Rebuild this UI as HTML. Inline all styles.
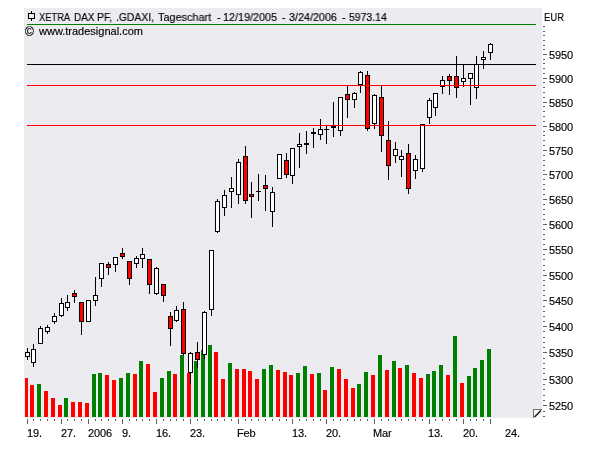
<!DOCTYPE html>
<html><head><meta charset="utf-8"><title>XETRA DAX PF</title>
<style>
html,body{margin:0;padding:0;background:#fff;}
body{width:600px;height:450px;position:relative;overflow:hidden;font-family:"Liberation Sans",sans-serif;color:#000;}
.yl,.xl{letter-spacing:-0.15px}
.t{position:absolute;will-change:transform;-webkit-text-stroke:0.15px #000;white-space:nowrap;font-size:11px;line-height:13px;height:13px;}
</style></head><body>
<svg width="600" height="450" viewBox="0 0 600 450" style="position:absolute;left:0;top:0" shape-rendering="crispEdges">
<rect x="0" y="0" width="600" height="450" fill="#fff"/>
<rect x="24" y="8" width="518" height="410" fill="#ebebf0"/>
<rect x="25" y="378" width="3" height="39" fill="#ff0000"/>
<rect x="30" y="385" width="4" height="32" fill="#ff0000"/>
<rect x="37" y="384" width="4" height="33" fill="#008000"/>
<rect x="44" y="391" width="4" height="26" fill="#ff0000"/>
<rect x="51" y="398" width="4" height="19" fill="#ff0000"/>
<rect x="58" y="405" width="4" height="12" fill="#ff0000"/>
<rect x="64" y="398" width="4" height="19" fill="#008000"/>
<rect x="71" y="402" width="4" height="15" fill="#ff0000"/>
<rect x="78" y="402" width="4" height="15" fill="#ff0000"/>
<rect x="85" y="403" width="4" height="14" fill="#ff0000"/>
<rect x="92" y="374" width="4" height="43" fill="#008000"/>
<rect x="98" y="373" width="4" height="44" fill="#008000"/>
<rect x="105" y="375" width="4" height="42" fill="#ff0000"/>
<rect x="112" y="380" width="4" height="37" fill="#ff0000"/>
<rect x="119" y="378" width="4" height="39" fill="#008000"/>
<rect x="126" y="373" width="4" height="44" fill="#008000"/>
<rect x="133" y="374" width="4" height="43" fill="#ff0000"/>
<rect x="139" y="361" width="4" height="56" fill="#008000"/>
<rect x="146" y="364" width="4" height="53" fill="#ff0000"/>
<rect x="153" y="392" width="4" height="25" fill="#ff0000"/>
<rect x="160" y="378" width="4" height="39" fill="#008000"/>
<rect x="167" y="371" width="4" height="46" fill="#008000"/>
<rect x="173" y="374" width="4" height="43" fill="#ff0000"/>
<rect x="180" y="355" width="4" height="62" fill="#008000"/>
<rect x="187" y="373" width="4" height="44" fill="#ff0000"/>
<rect x="194" y="361" width="4" height="56" fill="#008000"/>
<rect x="201" y="350" width="4" height="67" fill="#008000"/>
<rect x="208" y="345" width="4" height="72" fill="#008000"/>
<rect x="214" y="352" width="4" height="65" fill="#ff0000"/>
<rect x="221" y="379" width="4" height="38" fill="#ff0000"/>
<rect x="228" y="363" width="4" height="54" fill="#008000"/>
<rect x="235" y="369" width="4" height="48" fill="#ff0000"/>
<rect x="242" y="369" width="4" height="48" fill="#ff0000"/>
<rect x="248" y="371" width="4" height="46" fill="#ff0000"/>
<rect x="255" y="379" width="4" height="38" fill="#ff0000"/>
<rect x="262" y="369" width="4" height="48" fill="#008000"/>
<rect x="269" y="365" width="4" height="52" fill="#008000"/>
<rect x="276" y="370" width="4" height="47" fill="#ff0000"/>
<rect x="283" y="372" width="4" height="45" fill="#ff0000"/>
<rect x="289" y="375" width="4" height="42" fill="#ff0000"/>
<rect x="296" y="373" width="4" height="44" fill="#008000"/>
<rect x="303" y="366" width="4" height="51" fill="#008000"/>
<rect x="310" y="374" width="4" height="43" fill="#ff0000"/>
<rect x="317" y="373" width="4" height="44" fill="#008000"/>
<rect x="323" y="390" width="4" height="27" fill="#ff0000"/>
<rect x="330" y="367" width="4" height="50" fill="#008000"/>
<rect x="337" y="369" width="4" height="48" fill="#ff0000"/>
<rect x="344" y="379" width="4" height="38" fill="#ff0000"/>
<rect x="351" y="388" width="4" height="29" fill="#ff0000"/>
<rect x="357" y="384" width="4" height="33" fill="#008000"/>
<rect x="364" y="372" width="4" height="45" fill="#008000"/>
<rect x="371" y="375" width="4" height="42" fill="#ff0000"/>
<rect x="378" y="355" width="4" height="62" fill="#008000"/>
<rect x="385" y="370" width="4" height="47" fill="#ff0000"/>
<rect x="392" y="361" width="4" height="56" fill="#008000"/>
<rect x="398" y="368" width="4" height="49" fill="#ff0000"/>
<rect x="405" y="365" width="4" height="52" fill="#008000"/>
<rect x="412" y="373" width="4" height="44" fill="#ff0000"/>
<rect x="419" y="378" width="4" height="39" fill="#ff0000"/>
<rect x="426" y="374" width="4" height="43" fill="#008000"/>
<rect x="432" y="371" width="4" height="46" fill="#008000"/>
<rect x="439" y="365" width="4" height="52" fill="#008000"/>
<rect x="446" y="375" width="4" height="42" fill="#ff0000"/>
<rect x="453" y="336" width="4" height="81" fill="#008000"/>
<rect x="460" y="383" width="4" height="34" fill="#ff0000"/>
<rect x="467" y="376" width="4" height="41" fill="#008000"/>
<rect x="473" y="368" width="4" height="49" fill="#008000"/>
<rect x="480" y="360" width="4" height="57" fill="#008000"/>
<rect x="487" y="349" width="4" height="68" fill="#008000"/>
<rect x="27" y="348" width="1" height="12" fill="#000"/>
<rect x="25" y="352" width="5" height="5" fill="#000"/>
<rect x="26" y="353" width="3" height="3" fill="#ffffff"/>
<rect x="33" y="344" width="1" height="23" fill="#000"/>
<rect x="31" y="349" width="5" height="14" fill="#000"/>
<rect x="32" y="350" width="3" height="12" fill="#ffffff"/>
<rect x="40" y="326" width="1" height="18" fill="#000"/>
<rect x="38" y="328" width="5" height="16" fill="#000"/>
<rect x="39" y="329" width="3" height="14" fill="#ffffff"/>
<rect x="47" y="325" width="1" height="9" fill="#000"/>
<rect x="45" y="327" width="5" height="5" fill="#000"/>
<rect x="46" y="328" width="3" height="3" fill="#ffffff"/>
<rect x="54" y="313" width="1" height="11" fill="#000"/>
<rect x="52" y="316" width="5" height="6" fill="#000"/>
<rect x="53" y="317" width="3" height="4" fill="#ffffff"/>
<rect x="61" y="298" width="1" height="19" fill="#000"/>
<rect x="59" y="303" width="5" height="13" fill="#000"/>
<rect x="60" y="304" width="3" height="11" fill="#ffffff"/>
<rect x="67" y="295" width="1" height="16" fill="#000"/>
<rect x="65" y="302" width="5" height="6" fill="#000"/>
<rect x="66" y="303" width="3" height="4" fill="#ffffff"/>
<rect x="74" y="290" width="1" height="13" fill="#000"/>
<rect x="72" y="293" width="5" height="4" fill="#000"/>
<rect x="73" y="294" width="3" height="2" fill="#ff0000"/>
<rect x="81" y="302" width="1" height="33" fill="#000"/>
<rect x="79" y="302" width="5" height="20" fill="#000"/>
<rect x="80" y="303" width="3" height="18" fill="#ff0000"/>
<rect x="88" y="300" width="1" height="22" fill="#000"/>
<rect x="86" y="300" width="5" height="22" fill="#000"/>
<rect x="87" y="301" width="3" height="20" fill="#ffffff"/>
<rect x="95" y="277" width="1" height="29" fill="#000"/>
<rect x="93" y="295" width="5" height="6" fill="#000"/>
<rect x="94" y="296" width="3" height="4" fill="#ffffff"/>
<rect x="101" y="263" width="1" height="24" fill="#000"/>
<rect x="99" y="263" width="5" height="16" fill="#000"/>
<rect x="100" y="264" width="3" height="14" fill="#ffffff"/>
<rect x="108" y="262" width="1" height="13" fill="#000"/>
<rect x="106" y="264" width="5" height="4" fill="#000"/>
<rect x="107" y="265" width="3" height="2" fill="#ff0000"/>
<rect x="115" y="257" width="1" height="15" fill="#000"/>
<rect x="113" y="257" width="5" height="8" fill="#000"/>
<rect x="114" y="258" width="3" height="6" fill="#ffffff"/>
<rect x="122" y="248" width="1" height="11" fill="#000"/>
<rect x="120" y="253" width="5" height="4" fill="#000"/>
<rect x="121" y="254" width="3" height="2" fill="#ff0000"/>
<rect x="129" y="261" width="1" height="24" fill="#000"/>
<rect x="127" y="261" width="5" height="18" fill="#000"/>
<rect x="128" y="262" width="3" height="16" fill="#ff0000"/>
<rect x="136" y="256" width="1" height="12" fill="#000"/>
<rect x="134" y="258" width="5" height="6" fill="#000"/>
<rect x="135" y="259" width="3" height="4" fill="#ffffff"/>
<rect x="142" y="248" width="1" height="20" fill="#000"/>
<rect x="140" y="254" width="5" height="5" fill="#000"/>
<rect x="141" y="255" width="3" height="3" fill="#ffffff"/>
<rect x="149" y="259" width="1" height="35" fill="#000"/>
<rect x="147" y="259" width="5" height="26" fill="#000"/>
<rect x="148" y="260" width="3" height="24" fill="#ff0000"/>
<rect x="156" y="267" width="1" height="28" fill="#000"/>
<rect x="154" y="268" width="5" height="26" fill="#000"/>
<rect x="155" y="269" width="3" height="24" fill="#ffffff"/>
<rect x="163" y="284" width="1" height="18" fill="#000"/>
<rect x="161" y="284" width="5" height="12" fill="#000"/>
<rect x="162" y="285" width="3" height="10" fill="#ff0000"/>
<rect x="170" y="312" width="1" height="34" fill="#000"/>
<rect x="168" y="316" width="5" height="13" fill="#000"/>
<rect x="169" y="317" width="3" height="11" fill="#ff0000"/>
<rect x="176" y="306" width="1" height="16" fill="#000"/>
<rect x="174" y="310" width="5" height="11" fill="#000"/>
<rect x="175" y="311" width="3" height="9" fill="#ffffff"/>
<rect x="183" y="302" width="1" height="53" fill="#000"/>
<rect x="181" y="309" width="5" height="45" fill="#000"/>
<rect x="182" y="310" width="3" height="43" fill="#ff0000"/>
<rect x="190" y="352" width="1" height="32" fill="#000"/>
<rect x="188" y="353" width="5" height="20" fill="#000"/>
<rect x="189" y="354" width="3" height="18" fill="#ffffff"/>
<rect x="197" y="342" width="1" height="26" fill="#000"/>
<rect x="195" y="352" width="5" height="8" fill="#000"/>
<rect x="196" y="353" width="3" height="6" fill="#ff0000"/>
<rect x="204" y="311" width="1" height="48" fill="#000"/>
<rect x="202" y="312" width="5" height="43" fill="#000"/>
<rect x="203" y="313" width="3" height="41" fill="#ffffff"/>
<rect x="211" y="250" width="1" height="66" fill="#000"/>
<rect x="209" y="250" width="5" height="60" fill="#000"/>
<rect x="210" y="251" width="3" height="58" fill="#ffffff"/>
<rect x="217" y="199" width="1" height="34" fill="#000"/>
<rect x="215" y="201" width="5" height="31" fill="#000"/>
<rect x="216" y="202" width="3" height="29" fill="#ffffff"/>
<rect x="224" y="190" width="1" height="26" fill="#000"/>
<rect x="222" y="195" width="5" height="13" fill="#000"/>
<rect x="223" y="196" width="3" height="11" fill="#ffffff"/>
<rect x="231" y="177" width="1" height="31" fill="#000"/>
<rect x="229" y="188" width="5" height="4" fill="#000"/>
<rect x="230" y="189" width="3" height="2" fill="#ffffff"/>
<rect x="238" y="159" width="1" height="45" fill="#000"/>
<rect x="236" y="162" width="5" height="33" fill="#000"/>
<rect x="237" y="163" width="3" height="31" fill="#ffffff"/>
<rect x="245" y="146" width="1" height="58" fill="#000"/>
<rect x="243" y="156" width="5" height="45" fill="#000"/>
<rect x="244" y="157" width="3" height="43" fill="#ff0000"/>
<rect x="251" y="182" width="1" height="36" fill="#000"/>
<rect x="249" y="194" width="5" height="3" fill="#000"/>
<rect x="250" y="195" width="3" height="1" fill="#ff0000"/>
<rect x="258" y="174" width="1" height="27" fill="#000"/>
<rect x="256" y="191" width="5" height="1" fill="#000"/>
<rect x="265" y="175" width="1" height="36" fill="#000"/>
<rect x="263" y="185" width="5" height="4" fill="#000"/>
<rect x="264" y="186" width="3" height="2" fill="#ff0000"/>
<rect x="272" y="187" width="1" height="40" fill="#000"/>
<rect x="270" y="192" width="5" height="20" fill="#000"/>
<rect x="271" y="193" width="3" height="18" fill="#ffffff"/>
<rect x="279" y="154" width="1" height="25" fill="#000"/>
<rect x="277" y="154" width="5" height="25" fill="#000"/>
<rect x="278" y="155" width="3" height="23" fill="#ffffff"/>
<rect x="286" y="153" width="1" height="25" fill="#000"/>
<rect x="284" y="160" width="5" height="15" fill="#000"/>
<rect x="285" y="161" width="3" height="13" fill="#ff0000"/>
<rect x="292" y="148" width="1" height="36" fill="#000"/>
<rect x="290" y="148" width="5" height="28" fill="#000"/>
<rect x="291" y="149" width="3" height="26" fill="#ffffff"/>
<rect x="299" y="133" width="1" height="35" fill="#000"/>
<rect x="297" y="144" width="5" height="3" fill="#000"/>
<rect x="298" y="145" width="3" height="1" fill="#ffffff"/>
<rect x="306" y="131" width="1" height="23" fill="#000"/>
<rect x="304" y="143" width="5" height="2" fill="#000"/>
<rect x="313" y="128" width="1" height="20" fill="#000"/>
<rect x="311" y="132" width="5" height="2" fill="#000"/>
<rect x="320" y="119" width="1" height="21" fill="#000"/>
<rect x="318" y="129" width="5" height="6" fill="#000"/>
<rect x="319" y="130" width="3" height="4" fill="#ffffff"/>
<rect x="326" y="126" width="1" height="18" fill="#000"/>
<rect x="324" y="129" width="5" height="1" fill="#000"/>
<rect x="333" y="102" width="1" height="35" fill="#000"/>
<rect x="331" y="126" width="5" height="2" fill="#000"/>
<rect x="340" y="97" width="1" height="39" fill="#000"/>
<rect x="338" y="97" width="5" height="34" fill="#000"/>
<rect x="339" y="98" width="3" height="32" fill="#ffffff"/>
<rect x="347" y="86" width="1" height="32" fill="#000"/>
<rect x="345" y="94" width="5" height="6" fill="#000"/>
<rect x="346" y="95" width="3" height="4" fill="#ff0000"/>
<rect x="354" y="92" width="1" height="16" fill="#000"/>
<rect x="352" y="93" width="5" height="7" fill="#000"/>
<rect x="353" y="94" width="3" height="5" fill="#ffffff"/>
<rect x="360" y="71" width="1" height="22" fill="#000"/>
<rect x="358" y="72" width="5" height="13" fill="#000"/>
<rect x="359" y="73" width="3" height="11" fill="#ffffff"/>
<rect x="367" y="71" width="1" height="60" fill="#000"/>
<rect x="365" y="75" width="5" height="54" fill="#000"/>
<rect x="366" y="76" width="3" height="52" fill="#ff0000"/>
<rect x="374" y="94" width="1" height="35" fill="#000"/>
<rect x="372" y="95" width="5" height="29" fill="#000"/>
<rect x="373" y="96" width="3" height="27" fill="#ffffff"/>
<rect x="381" y="86" width="1" height="66" fill="#000"/>
<rect x="379" y="97" width="5" height="39" fill="#000"/>
<rect x="380" y="98" width="3" height="37" fill="#ff0000"/>
<rect x="388" y="121" width="1" height="59" fill="#000"/>
<rect x="386" y="140" width="5" height="26" fill="#000"/>
<rect x="387" y="141" width="3" height="24" fill="#ff0000"/>
<rect x="395" y="142" width="1" height="21" fill="#000"/>
<rect x="393" y="149" width="5" height="7" fill="#000"/>
<rect x="394" y="150" width="3" height="5" fill="#ffffff"/>
<rect x="401" y="150" width="1" height="27" fill="#000"/>
<rect x="399" y="156" width="5" height="4" fill="#000"/>
<rect x="400" y="157" width="3" height="2" fill="#ffffff"/>
<rect x="408" y="144" width="1" height="50" fill="#000"/>
<rect x="406" y="153" width="5" height="36" fill="#000"/>
<rect x="407" y="154" width="3" height="34" fill="#ff0000"/>
<rect x="415" y="155" width="1" height="24" fill="#000"/>
<rect x="413" y="159" width="5" height="12" fill="#000"/>
<rect x="414" y="160" width="3" height="10" fill="#ffffff"/>
<rect x="422" y="124" width="1" height="48" fill="#000"/>
<rect x="420" y="124" width="5" height="45" fill="#000"/>
<rect x="421" y="125" width="3" height="43" fill="#ffffff"/>
<rect x="429" y="98" width="1" height="26" fill="#000"/>
<rect x="427" y="100" width="5" height="18" fill="#000"/>
<rect x="428" y="101" width="3" height="16" fill="#ffffff"/>
<rect x="435" y="93" width="1" height="23" fill="#000"/>
<rect x="433" y="93" width="5" height="15" fill="#000"/>
<rect x="434" y="94" width="3" height="13" fill="#ffffff"/>
<rect x="442" y="76" width="1" height="18" fill="#000"/>
<rect x="440" y="80" width="5" height="7" fill="#000"/>
<rect x="441" y="81" width="3" height="5" fill="#ffffff"/>
<rect x="449" y="74" width="1" height="21" fill="#000"/>
<rect x="447" y="76" width="5" height="5" fill="#000"/>
<rect x="448" y="77" width="3" height="3" fill="#ff0000"/>
<rect x="456" y="56" width="1" height="42" fill="#000"/>
<rect x="454" y="76" width="5" height="12" fill="#000"/>
<rect x="455" y="77" width="3" height="10" fill="#ff0000"/>
<rect x="463" y="65" width="1" height="22" fill="#000"/>
<rect x="461" y="78" width="5" height="4" fill="#000"/>
<rect x="462" y="79" width="3" height="2" fill="#ffffff"/>
<rect x="470" y="73" width="1" height="32" fill="#000"/>
<rect x="468" y="73" width="5" height="6" fill="#000"/>
<rect x="469" y="74" width="3" height="4" fill="#ffffff"/>
<rect x="476" y="56" width="1" height="43" fill="#000"/>
<rect x="474" y="64" width="5" height="24" fill="#000"/>
<rect x="475" y="65" width="3" height="22" fill="#ffffff"/>
<rect x="483" y="51" width="1" height="18" fill="#000"/>
<rect x="481" y="57" width="5" height="3" fill="#000"/>
<rect x="482" y="58" width="3" height="1" fill="#ffffff"/>
<rect x="490" y="43" width="1" height="17" fill="#000"/>
<rect x="488" y="44" width="5" height="9" fill="#000"/>
<rect x="489" y="45" width="3" height="7" fill="#ffffff"/>
<rect x="27" y="24" width="509" height="1" fill="#008000"/>
<rect x="27" y="64" width="509" height="1" fill="#000"/>
<rect x="27" y="85" width="509" height="1" fill="#ff0000"/>
<rect x="27" y="125" width="509" height="1" fill="#ff0000"/>
<rect x="543" y="416" width="2" height="1" fill="#606060"/>
<rect x="543" y="411" width="2" height="1" fill="#606060"/>
<rect x="543" y="405" width="4" height="1" fill="#606060"/>
<rect x="543" y="400" width="2" height="1" fill="#606060"/>
<rect x="543" y="395" width="2" height="1" fill="#606060"/>
<rect x="543" y="389" width="2" height="1" fill="#606060"/>
<rect x="543" y="384" width="2" height="1" fill="#606060"/>
<rect x="543" y="379" width="4" height="1" fill="#606060"/>
<rect x="543" y="373" width="2" height="1" fill="#606060"/>
<rect x="543" y="368" width="2" height="1" fill="#606060"/>
<rect x="543" y="363" width="2" height="1" fill="#606060"/>
<rect x="543" y="358" width="2" height="1" fill="#606060"/>
<rect x="543" y="352" width="4" height="1" fill="#606060"/>
<rect x="543" y="347" width="2" height="1" fill="#606060"/>
<rect x="543" y="342" width="2" height="1" fill="#606060"/>
<rect x="543" y="337" width="2" height="1" fill="#606060"/>
<rect x="543" y="331" width="2" height="1" fill="#606060"/>
<rect x="543" y="326" width="4" height="1" fill="#606060"/>
<rect x="543" y="321" width="2" height="1" fill="#606060"/>
<rect x="543" y="316" width="2" height="1" fill="#606060"/>
<rect x="543" y="311" width="2" height="1" fill="#606060"/>
<rect x="543" y="306" width="2" height="1" fill="#606060"/>
<rect x="543" y="300" width="4" height="1" fill="#606060"/>
<rect x="543" y="295" width="2" height="1" fill="#606060"/>
<rect x="543" y="290" width="2" height="1" fill="#606060"/>
<rect x="543" y="285" width="2" height="1" fill="#606060"/>
<rect x="543" y="280" width="2" height="1" fill="#606060"/>
<rect x="543" y="275" width="4" height="1" fill="#606060"/>
<rect x="543" y="270" width="2" height="1" fill="#606060"/>
<rect x="543" y="265" width="2" height="1" fill="#606060"/>
<rect x="543" y="259" width="2" height="1" fill="#606060"/>
<rect x="543" y="254" width="2" height="1" fill="#606060"/>
<rect x="543" y="249" width="4" height="1" fill="#606060"/>
<rect x="543" y="244" width="2" height="1" fill="#606060"/>
<rect x="543" y="239" width="2" height="1" fill="#606060"/>
<rect x="543" y="234" width="2" height="1" fill="#606060"/>
<rect x="543" y="229" width="2" height="1" fill="#606060"/>
<rect x="543" y="224" width="4" height="1" fill="#606060"/>
<rect x="543" y="219" width="2" height="1" fill="#606060"/>
<rect x="543" y="214" width="2" height="1" fill="#606060"/>
<rect x="543" y="209" width="2" height="1" fill="#606060"/>
<rect x="543" y="204" width="2" height="1" fill="#606060"/>
<rect x="543" y="199" width="4" height="1" fill="#606060"/>
<rect x="543" y="194" width="2" height="1" fill="#606060"/>
<rect x="543" y="189" width="2" height="1" fill="#606060"/>
<rect x="543" y="184" width="2" height="1" fill="#606060"/>
<rect x="543" y="179" width="2" height="1" fill="#606060"/>
<rect x="543" y="174" width="4" height="1" fill="#606060"/>
<rect x="543" y="170" width="2" height="1" fill="#606060"/>
<rect x="543" y="165" width="2" height="1" fill="#606060"/>
<rect x="543" y="160" width="2" height="1" fill="#606060"/>
<rect x="543" y="155" width="2" height="1" fill="#606060"/>
<rect x="543" y="150" width="4" height="1" fill="#606060"/>
<rect x="543" y="145" width="2" height="1" fill="#606060"/>
<rect x="543" y="140" width="2" height="1" fill="#606060"/>
<rect x="543" y="135" width="2" height="1" fill="#606060"/>
<rect x="543" y="131" width="2" height="1" fill="#606060"/>
<rect x="543" y="126" width="4" height="1" fill="#606060"/>
<rect x="543" y="121" width="2" height="1" fill="#606060"/>
<rect x="543" y="116" width="2" height="1" fill="#606060"/>
<rect x="543" y="111" width="2" height="1" fill="#606060"/>
<rect x="543" y="106" width="2" height="1" fill="#606060"/>
<rect x="543" y="102" width="4" height="1" fill="#606060"/>
<rect x="543" y="97" width="2" height="1" fill="#606060"/>
<rect x="543" y="92" width="2" height="1" fill="#606060"/>
<rect x="543" y="87" width="2" height="1" fill="#606060"/>
<rect x="543" y="82" width="2" height="1" fill="#606060"/>
<rect x="543" y="78" width="4" height="1" fill="#606060"/>
<rect x="543" y="73" width="2" height="1" fill="#606060"/>
<rect x="543" y="68" width="2" height="1" fill="#606060"/>
<rect x="543" y="63" width="2" height="1" fill="#606060"/>
<rect x="543" y="59" width="2" height="1" fill="#606060"/>
<rect x="543" y="54" width="4" height="1" fill="#606060"/>
<rect x="543" y="49" width="2" height="1" fill="#606060"/>
<rect x="543" y="45" width="2" height="1" fill="#606060"/>
<rect x="543" y="40" width="2" height="1" fill="#606060"/>
<rect x="543" y="35" width="2" height="1" fill="#606060"/>
<rect x="543" y="31" width="2" height="1" fill="#606060"/>
<rect x="543" y="26" width="2" height="1" fill="#606060"/>
<rect x="27" y="419" width="1" height="5" fill="#606060"/>
<rect x="33" y="419" width="1" height="2" fill="#606060"/>
<rect x="40" y="419" width="1" height="2" fill="#606060"/>
<rect x="47" y="419" width="1" height="2" fill="#606060"/>
<rect x="54" y="419" width="1" height="2" fill="#606060"/>
<rect x="61" y="419" width="1" height="5" fill="#606060"/>
<rect x="67" y="419" width="1" height="2" fill="#606060"/>
<rect x="74" y="419" width="1" height="2" fill="#606060"/>
<rect x="81" y="419" width="1" height="2" fill="#606060"/>
<rect x="88" y="419" width="1" height="5" fill="#606060"/>
<rect x="95" y="419" width="1" height="2" fill="#606060"/>
<rect x="101" y="419" width="1" height="2" fill="#606060"/>
<rect x="108" y="419" width="1" height="2" fill="#606060"/>
<rect x="115" y="419" width="1" height="2" fill="#606060"/>
<rect x="122" y="419" width="1" height="5" fill="#606060"/>
<rect x="129" y="419" width="1" height="2" fill="#606060"/>
<rect x="136" y="419" width="1" height="2" fill="#606060"/>
<rect x="142" y="419" width="1" height="2" fill="#606060"/>
<rect x="149" y="419" width="1" height="2" fill="#606060"/>
<rect x="156" y="419" width="1" height="5" fill="#606060"/>
<rect x="163" y="419" width="1" height="2" fill="#606060"/>
<rect x="170" y="419" width="1" height="2" fill="#606060"/>
<rect x="176" y="419" width="1" height="2" fill="#606060"/>
<rect x="183" y="419" width="1" height="2" fill="#606060"/>
<rect x="190" y="419" width="1" height="5" fill="#606060"/>
<rect x="197" y="419" width="1" height="2" fill="#606060"/>
<rect x="204" y="419" width="1" height="2" fill="#606060"/>
<rect x="211" y="419" width="1" height="2" fill="#606060"/>
<rect x="217" y="419" width="1" height="2" fill="#606060"/>
<rect x="224" y="419" width="1" height="2" fill="#606060"/>
<rect x="231" y="419" width="1" height="2" fill="#606060"/>
<rect x="238" y="419" width="1" height="5" fill="#606060"/>
<rect x="245" y="419" width="1" height="2" fill="#606060"/>
<rect x="251" y="419" width="1" height="2" fill="#606060"/>
<rect x="258" y="419" width="1" height="2" fill="#606060"/>
<rect x="265" y="419" width="1" height="2" fill="#606060"/>
<rect x="272" y="419" width="1" height="2" fill="#606060"/>
<rect x="279" y="419" width="1" height="2" fill="#606060"/>
<rect x="286" y="419" width="1" height="2" fill="#606060"/>
<rect x="292" y="419" width="1" height="5" fill="#606060"/>
<rect x="299" y="419" width="1" height="2" fill="#606060"/>
<rect x="306" y="419" width="1" height="2" fill="#606060"/>
<rect x="313" y="419" width="1" height="2" fill="#606060"/>
<rect x="320" y="419" width="1" height="2" fill="#606060"/>
<rect x="326" y="419" width="1" height="5" fill="#606060"/>
<rect x="333" y="419" width="1" height="2" fill="#606060"/>
<rect x="340" y="419" width="1" height="2" fill="#606060"/>
<rect x="347" y="419" width="1" height="2" fill="#606060"/>
<rect x="354" y="419" width="1" height="2" fill="#606060"/>
<rect x="360" y="419" width="1" height="2" fill="#606060"/>
<rect x="367" y="419" width="1" height="2" fill="#606060"/>
<rect x="374" y="419" width="1" height="5" fill="#606060"/>
<rect x="381" y="419" width="1" height="2" fill="#606060"/>
<rect x="388" y="419" width="1" height="2" fill="#606060"/>
<rect x="395" y="419" width="1" height="2" fill="#606060"/>
<rect x="401" y="419" width="1" height="2" fill="#606060"/>
<rect x="408" y="419" width="1" height="2" fill="#606060"/>
<rect x="415" y="419" width="1" height="2" fill="#606060"/>
<rect x="422" y="419" width="1" height="2" fill="#606060"/>
<rect x="429" y="419" width="1" height="5" fill="#606060"/>
<rect x="435" y="419" width="1" height="2" fill="#606060"/>
<rect x="442" y="419" width="1" height="2" fill="#606060"/>
<rect x="449" y="419" width="1" height="2" fill="#606060"/>
<rect x="456" y="419" width="1" height="2" fill="#606060"/>
<rect x="463" y="419" width="1" height="5" fill="#606060"/>
<rect x="470" y="419" width="1" height="2" fill="#606060"/>
<rect x="476" y="419" width="1" height="2" fill="#606060"/>
<rect x="483" y="419" width="1" height="2" fill="#606060"/>
<rect x="490" y="419" width="1" height="5" fill="#606060"/>
<rect x="31" y="11" width="1" height="10" fill="#000"/>
<rect x="28" y="13" width="7" height="6" fill="#000"/>
<rect x="29" y="14" width="5" height="4" fill="#ebebf0"/>
<rect x="533" y="409" width="9" height="9" fill="#f8f8f8"/>
<rect x="533" y="409" width="9" height="1" fill="#707070"/>
<rect x="533" y="409" width="1" height="9" fill="#707070"/>
<path d="M534.5 417 L541 410.5" stroke="#202020" stroke-width="1.6" shape-rendering="auto"/>
</svg>
<div class="t tw" style="left:39.30px;top:11px;transform:scaleX(0.8486);transform-origin:0 0;">XETRA</div>
<div class="t tw" style="left:74.10px;top:11px;transform:scaleX(0.9048);transform-origin:0 0;">DAX</div>
<div class="t tw" style="left:97.34px;top:11px;transform:scaleX(0.9571);transform-origin:0 0;">PF,</div>
<div class="t tw" style="left:116.36px;top:11px;transform:scaleX(0.9410);transform-origin:0 0;">.GDAXI,</div>
<div class="t tw" style="left:158.30px;top:11px;transform:scaleX(0.9889);transform-origin:0 0;">Tageschart</div>
<div class="t tw" style="left:216.70px;top:11px;transform:scaleX(1.0000);transform-origin:0 0;">-</div>
<div class="t tw" style="left:223.32px;top:11px;transform:scaleX(0.9815);transform-origin:0 0;">12/19/2005</div>
<div class="t tw" style="left:281.70px;top:11px;transform:scaleX(1.0000);transform-origin:0 0;">-</div>
<div class="t tw" style="left:289.30px;top:11px;transform:scaleX(0.9796);transform-origin:0 0;">3/24/2006</div>
<div class="t tw" style="left:341.70px;top:11px;transform:scaleX(1.0000);transform-origin:0 0;">-</div>
<div class="t tw" style="left:349.30px;top:11px;transform:scaleX(0.9500);transform-origin:0 0;">5973.14</div>
<div class="t" id="copy" style="left:25.4px;top:25.5px;font-size:12px">©</div>
<div class="t" id="www" style="left:39px;top:25px;">www.tradesignal.com</div>
<div class="t" id="eur" style="left:543.8px;top:11px;transform:scaleX(0.864);transform-origin:0 0;">EUR</div>
<div class="t yl" style="left:548.7px;top:400px;">5250</div>
<div class="t yl" style="left:548.7px;top:374px;">5300</div>
<div class="t yl" style="left:548.7px;top:347px;">5350</div>
<div class="t yl" style="left:548.7px;top:321px;">5400</div>
<div class="t yl" style="left:548.7px;top:295px;">5450</div>
<div class="t yl" style="left:548.7px;top:270px;">5500</div>
<div class="t yl" style="left:548.7px;top:244px;">5550</div>
<div class="t yl" style="left:548.7px;top:219px;">5600</div>
<div class="t yl" style="left:548.7px;top:194px;">5650</div>
<div class="t yl" style="left:548.7px;top:169px;">5700</div>
<div class="t yl" style="left:548.7px;top:145px;">5750</div>
<div class="t yl" style="left:548.7px;top:121px;">5800</div>
<div class="t yl" style="left:548.7px;top:97px;">5850</div>
<div class="t yl" style="left:548.7px;top:73px;">5900</div>
<div class="t yl" style="left:548.7px;top:49px;">5950</div>
<div class="t xl" style="left:27px;top:427px;">19.</div>
<div class="t xl" style="left:61px;top:427px;">27.</div>
<div class="t xl" style="left:88px;top:427px;">2006</div>
<div class="t xl" style="left:122px;top:427px;">9.</div>
<div class="t xl" style="left:156px;top:427px;">16.</div>
<div class="t xl" style="left:190px;top:427px;">23.</div>
<div class="t xl" style="left:237px;top:427px;">Feb</div>
<div class="t xl" style="left:292px;top:427px;">13.</div>
<div class="t xl" style="left:326px;top:427px;">20.</div>
<div class="t xl" style="left:373px;top:427px;">Mar</div>
<div class="t xl" style="left:428.3px;top:427px;">13.</div>
<div class="t xl" style="left:463px;top:427px;">20.</div>
<div class="t xl" style="left:505px;top:427px;">24.</div>
</body></html>
